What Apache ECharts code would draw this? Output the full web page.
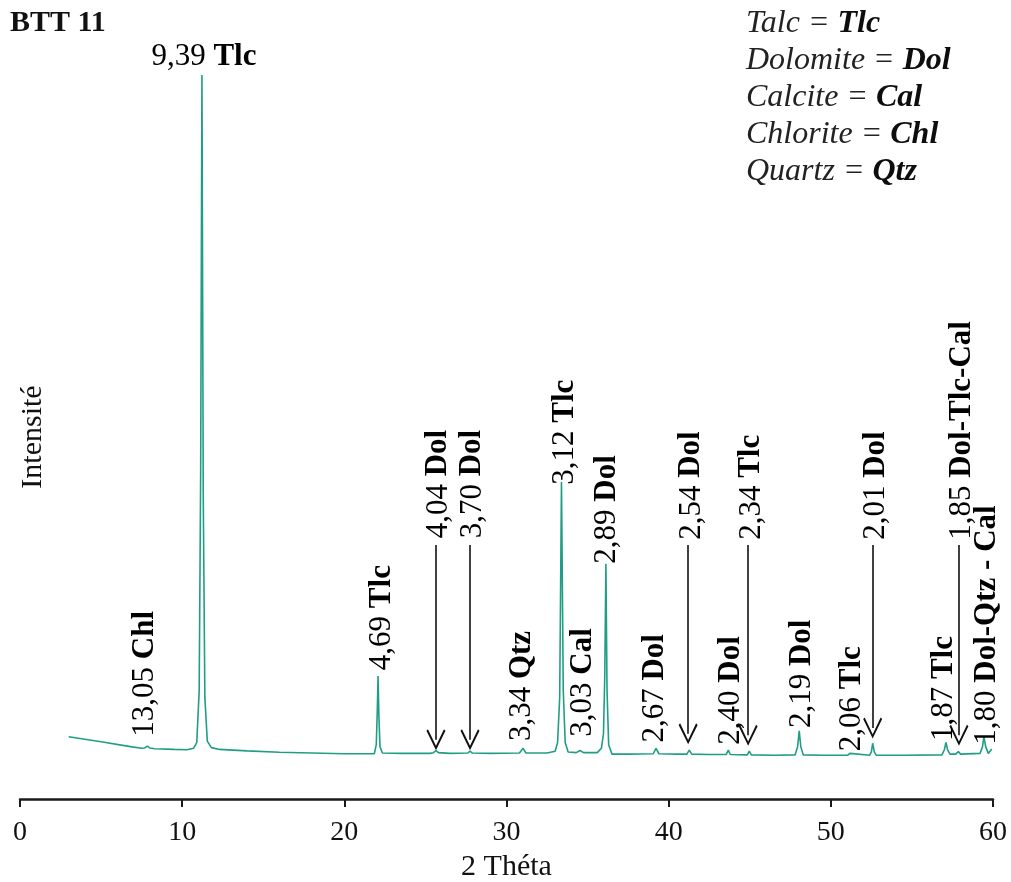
<!DOCTYPE html>
<html>
<head>
<meta charset="utf-8">
<script src="https://cdn.jsdelivr.net/npm/echarts@6/dist/echarts.min.js"></script>
<style>html,body{margin:0;padding:0;background:#fff}#c{width:1011px;height:882px}</style>
</head>
<body>
<div id="c"></div>
<script>
// ---- data ----
const twoTheta = [3.0, 5.0, 6.9, 7.5, 7.7, 7.85, 8.0, 8.3, 9.5, 10.3, 10.7, 10.9, 11.05, 11.14, 11.22, 11.3, 11.4, 11.55, 11.8, 12.3, 14, 16, 18, 20, 21.85, 21.97, 22.03, 22.08, 22.13, 22.2, 22.35, 23.5, 25.3, 25.5, 25.65, 25.8, 26.5, 27.6, 27.75, 27.9, 29, 30.8, 31.02, 31.2, 32.5, 33.0, 33.15, 33.28, 33.39, 33.5, 33.62, 33.8, 34.3, 34.53, 34.75, 35.6, 35.85, 35.98, 36.06, 36.13, 36.2, 36.3, 36.5, 37.5, 39.05, 39.22, 39.4, 40.5, 41.12, 41.27, 41.42, 42.5, 43.55, 43.68, 43.8, 44.85, 44.97, 45.1, 46.5, 47.8, 47.95, 48.05, 48.15, 48.3, 49.5, 51.05, 51.18, 51.3, 52.4, 52.5, 52.58, 52.68, 52.8, 54.5, 56.85, 57.0, 57.1, 57.2, 57.35, 57.7, 57.86, 58.0, 59.2, 59.35, 59.44, 59.55, 59.71, 59.92];
const intensity = [86, 79, 72, 70, 70.5, 73, 70.5, 69.5, 68.5, 68, 70, 78, 150, 450, 1000, 420, 140, 80, 71, 68.5, 66.5, 64.5, 63.5, 62.5, 62.5, 75, 120, 170, 115, 72, 63.5, 63, 63, 64, 67, 64, 63, 63.5, 66, 63.5, 63, 63.5, 70, 63.5, 63.5, 66, 78, 140, 438, 150, 78, 65, 64, 67, 64, 64, 70, 90, 170, 325, 150, 75, 62, 62, 62.5, 70, 62.5, 62, 62, 67.5, 62, 61.5, 61.5, 67.5, 61.5, 61, 66, 61, 60.5, 61, 72, 94, 72, 61, 60.5, 60.5, 63, 60.5, 60.5, 65, 77, 65, 60.5, 60.5, 61, 68, 78, 68, 62, 62, 65.5, 62, 63, 72, 86, 72, 63, 69];

// vertical peak labels: d-spacing, mineral, 2θ, intensity where text starts
const labelD = ['13,05', '4,69', '4,04', '3,70', '3,34', '3,12', '3,03', '2,89', '2,67', '2,54', '2,40', '2,34', '2,19', '2,06', '2,01', '1,87', '1,85', '1,80'];
const labelMineral = ['Chl', 'Tlc', 'Dol', 'Dol', 'Qtz', 'Tlc', 'Cal', 'Dol', 'Dol', 'Dol', 'Dol', 'Tlc', 'Dol', 'Tlc', 'Dol', 'Tlc', 'Dol-Tlc-Cal', 'Dol-Qtz - Cal'];
const labelTheta = [7.71, 22.3, 25.8, 27.9, 30.95, 33.6, 34.72, 36.2, 39.16, 41.4, 43.84, 45.1, 48.2, 51.3, 52.8, 56.95, 58.1, 59.6];
const labelBase = [86, 178, 360, 360, 80, 434, 86, 325, 78, 358, 75, 358, 98, 66, 358, 80, 358, 75];

// arrows: 2θ, top of shaft, tip intensity
const arrowTheta = [25.65, 27.75, 41.2, 44.9, 52.58, 57.9];
const arrowTop = [351, 351, 351, 351, 351, 351];
const arrowTip = [68, 68, 76, 74, 84, 74];

// main peak label
const mainPeak = { d: '9,39', mineral: 'Tlc', theta: 11.22, value: 1000 };

const sampleName = 'BTT 11';
const legendNames = ['Talc', 'Dolomite', 'Calcite', 'Chlorite', 'Quartz'];
const legendAbbr = ['Tlc', 'Dol', 'Cal', 'Chl', 'Qtz'];

const xTicks = { min: 0, max: 60, interval: 10 };

// ---- chart ----
const FONT = 'Liberation Serif';
const curve = twoTheta.map((t, i) => [t, intensity[i]]);
const chevron = 'path://M10,0 L20,18.5 L18.4,20 L10,4.2 L1.6,20 L0,18.5 Z';
const arrowLines = arrowTheta.map((t, i) => [
  { coord: [t, arrowTop[i]] },
  { coord: [t, arrowTip[i] + 14] }
]);
const labelPts = labelTheta.map((t, i) => [t, labelBase[i], labelD[i], labelMineral[i]]);

const labelRich = {
  n: { fontFamily: FONT, fontSize: 31, fontWeight: 'normal', color: '#000', opacity: 1, textBorderWidth: 0, textBorderColor: 'transparent' },
  b: { fontFamily: FONT, fontSize: 31, fontWeight: 'bold', color: '#000', opacity: 1, textBorderWidth: 0, textBorderColor: 'transparent' }
};
const hiddenSymbol = { symbol: 'circle', symbolSize: 0, itemStyle: { color: '#000', opacity: 1 }, silent: true, z: 5, emphasis: { disabled: true } };

const chart = echarts.init(document.getElementById('c'), null, { renderer: 'canvas' });
chart.setOption({
  animation: false,
  backgroundColor: '#fff',
  title: [
    { text: sampleName, left: 10, top: 8, padding: 0,
      textStyle: { fontFamily: FONT, fontWeight: 'bold', fontSize: 30, color: '#111' } },
    { left: 746, top: 5, padding: 0,
      text: legendNames.map((n, i) => '{i|' + n + ' = }{b|' + legendAbbr[i] + '}').join('\n'),
      textStyle: { fontWeight: 'normal', rich: {
        i: { fontFamily: FONT, fontStyle: 'italic', fontWeight: 'normal', fontSize: 32, color: '#222', lineHeight: 37 },
        b: { fontFamily: FONT, fontStyle: 'italic', fontWeight: 'bold', fontSize: 32, color: '#0d0d0d', lineHeight: 37 }
      } } }
  ],
  grid: { left: 20, right: 18, top: 75, bottom: 83, containLabel: false, outerBoundsMode: 'none' },
  xAxis: {
    type: 'value', min: xTicks.min, max: xTicks.max, interval: xTicks.interval,
    name: '2 Théta', nameLocation: 'middle', nameGap: 48,
    nameTextStyle: { fontFamily: FONT, fontSize: 30, color: '#111' },
    axisLine: { show: true, onZero: false, lineStyle: { color: '#1a1a1a', width: 2.5 } },
    axisTick: { show: true, length: 8, lineStyle: { color: '#1a1a1a', width: 2 } },
    axisLabel: { fontFamily: FONT, fontSize: 28, color: '#111', margin: 20, showMinLabel: true, showMaxLabel: true },
    splitLine: { show: false }
  },
  yAxis: {
    type: 'value', min: 0, max: 1000,
    name: 'Intensité', nameLocation: 'middle', nameGap: -28, nameRotate: 90,
    nameTextStyle: { fontFamily: FONT, fontSize: 30, color: '#111' },
    axisLine: { show: false }, axisTick: { show: false }, axisLabel: { show: false }, splitLine: { show: false }
  },
  series: [
    {
      type: 'line', data: curve, showSymbol: false, symbol: 'none', smooth: false,
      lineStyle: { color: '#1f9e85', width: 1.6 },
      z: 3,
      markLine: {
        silent: true, animation: false,
        symbol: ['none', chevron], symbolSize: [19, 21],
        lineStyle: { color: '#111', width: 1.6, type: 'solid' },
        itemStyle: { color: '#111' },
        label: { show: false },
        data: arrowLines
      }
    },
    Object.assign({
      type: 'scatter', data: labelPts,
      label: {
        show: true, position: [0, 0], rotate: 90, align: 'left', verticalAlign: 'middle',
        color: '#000', textBorderWidth: 0, opacity: 1,
        formatter: p => '{n|' + p.data[2] + ' }{b|' + p.data[3] + '}',
        rich: labelRich
      }
    }, hiddenSymbol),
    Object.assign({
      type: 'scatter', data: [[mainPeak.theta, mainPeak.value, mainPeak.d, mainPeak.mineral]],
      label: {
        show: true, position: [0, 0], align: 'center', verticalAlign: 'bottom', offset: [2, -3],
        color: '#000', textBorderWidth: 0, opacity: 1,
        formatter: p => '{n|' + p.data[2] + ' }{b|' + p.data[3] + '}',
        rich: labelRich
      }
    }, hiddenSymbol)
  ]
});
</script>
</body>
</html>
